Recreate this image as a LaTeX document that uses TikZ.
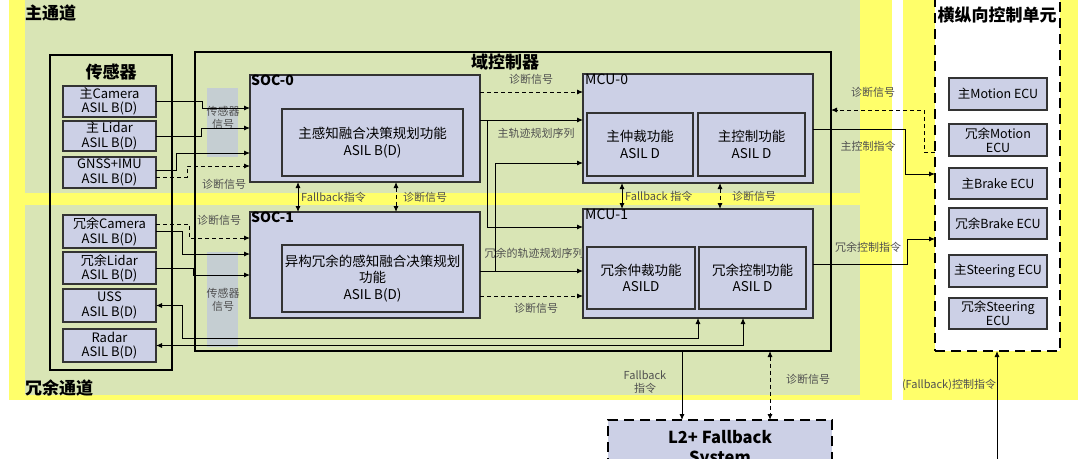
\documentclass[tikz,border=0pt]{standalone}
\usepackage{fontspec}
\setmainfont{Noto Sans CJK SC}
\usetikzlibrary{arrows.meta}
\definecolor{ylw}{HTML}{FFFF6A}
\definecolor{grn}{HTML}{D9E5B5}
\definecolor{bx}{HTML}{CCD0E6}
\definecolor{stripc}{HTML}{C2CBD8}
\definecolor{lgray}{HTML}{505050}
\begin{document}
\begin{tikzpicture}[x=1pt,y=-1pt,
  box/.style={draw=black!80, line width=1.1pt, fill=bx, inner sep=0pt, outer sep=0pt, anchor=north west, align=center, font=\fontsize{13}{14.5}\selectfont},
  grp/.style={draw=black, line width=2pt, inner sep=0pt, outer sep=0pt, anchor=north west},
  ttl/.style={font=\fontsize{17}{19}\selectfont\bfseries, inner sep=1pt},
  lbl/.style={text=lgray, font=\fontsize{11}{12.5}\selectfont, align=center, inner sep=0pt},
  conn/.style={line width=0.9pt, -{Latex[length=6pt,width=5pt]}},
  dconn/.style={conn, dash pattern=on 4pt off 3pt},
  both/.style={line width=0.9pt, {Latex[length=6pt,width=5pt]}-{Latex[length=6pt,width=5pt]}},
  dboth/.style={both, dash pattern=on 4pt off 3pt},
  bigdash/.style={draw=black, line width=2.6pt, dash pattern=on 10pt off 6pt, inner sep=0pt, outer sep=0pt, anchor=north west},
  ecu/.style={box, minimum width=98, font=\fontsize{12.5}{14}\selectfont},
  inner/.style={box, font=\fontsize{13.5}{16.5}\selectfont},
]
\useasboundingbox (0,0) rectangle (1078,458);
% backgrounds
\fill[ylw] (9,-5) rectangle (892,400);
\fill[grn] (25,-5) rectangle (860,193);
\fill[grn] (25,205) rectangle (860,395);
\fill[ylw] (903,-5) rectangle (1083,400);
% sensor signal strips
\fill[stripc, opacity=0.85] (207,88) rectangle (238,157);
\fill[stripc, opacity=0.85] (207,252) rectangle (238,347);
\node[lbl] (ss0) at (223,118) {传感器\\信号};
\node[lbl] (ss1) at (223,300) {传感器\\信号};
% channel titles
\node[ttl, anchor=west] (mainch) at (24,13) {主通道};
\node[ttl, anchor=west] (redch) at (24,388) {冗余通道};
% control unit
\node[bigdash, fill=white, minimum width=125, minimum height=356] (ctrl) at (935,-5) {};
\node[ttl, fill=white] (ctrlt) at (997,15) {横纵向控制单元};
\node[ecu, minimum height=32] (m0) at (949,78) {主Motion ECU};
\node[ecu, minimum height=32] (m1) at (949,124) {冗余Motion\\ECU};
\node[ecu, minimum height=31] (b0) at (949,168) {主Brake ECU};
\node[ecu, minimum height=31] (b1) at (949,208) {冗余Brake ECU};
\node[ecu, minimum height=32] (s0) at (949,255) {主Steering ECU};
\node[ecu, minimum height=31] (s1) at (949,298) {冗余Steering\\ECU};
% sensors
\node[grp, minimum width=122, minimum height=315] (sens) at (50,55) {};
\node[ttl] (senst) at (111,72) {传感器};
\node[box, minimum width=93, minimum height=31] (cam0) at (63,86) {主Camera\\ASIL B(D)};
\node[box, minimum width=93, minimum height=30] (lid0) at (63,121) {主 Lidar\\ASIL B(D)};
\node[box, minimum width=93, minimum height=31] (gnss) at (63,157) {GNSS+IMU\\ASIL B(D)};
\node[box, minimum width=93, minimum height=33] (cam1) at (63,215) {冗余Camera\\ASIL B(D)};
\node[box, minimum width=93, minimum height=32] (lid1) at (63,252) {冗余Lidar\\ASIL B(D)};
\node[box, minimum width=93, minimum height=33] (uss) at (63,289) {USS\\ASIL B(D)};
\node[box, minimum width=93, minimum height=33] (radar) at (63,329) {Radar\\ASIL B(D)};
% domain controller
\node[grp, minimum width=636, minimum height=299] (dc) at (195,52) {};
\node[ttl] (dct) at (505,62) {域控制器};
\node[box, minimum width=230, minimum height=107] (soc0) at (250,75) {};
\node[anchor=north west, inner sep=0pt, font=\fontsize{14}{15}\selectfont\bfseries] (soc0t) at (251,75) {SOC-0};
\node[inner, minimum width=181, minimum height=67] (soc0f) at (282,109) {主感知融合决策规划功能\\ASIL B(D)};
\node[box, minimum width=230, minimum height=106] (soc1) at (250,212) {};
\node[anchor=north west, inner sep=0pt, font=\fontsize{14}{15}\selectfont\bfseries] (soc1t) at (251,212) {SOC-1};
\node[inner, minimum width=181, minimum height=67] (soc1f) at (282,245) {异构冗余的感知融合决策规划\\功能\\ASIL B(D)};
\node[box, minimum width=230, minimum height=109] (mcu0) at (583,74) {};
\node[anchor=north west, inner sep=0pt, font=\fontsize{14}{15}\selectfont] (mcu0t) at (585,74) {MCU-0};
\node[inner, minimum width=106, minimum height=63] (arb0) at (587,113) {主仲裁功能\\ASIL D};
\node[inner, minimum width=107, minimum height=63] (ctl0) at (698,113) {主控制功能\\ASIL D};
\node[box, minimum width=230, minimum height=109] (mcu1) at (583,209) {};
\node[anchor=north west, inner sep=0pt, font=\fontsize{14}{15}\selectfont] (mcu1t) at (585,209) {MCU-1};
\node[inner, minimum width=108, minimum height=62] (arb1) at (587,247) {冗余仲裁功能\\ASILD};
\node[inner, minimum width=107, minimum height=62] (ctl1) at (699,247) {冗余控制功能\\ASIL D};
% L2+ fallback
\node[bigdash, fill=bx, minimum width=224, minimum height=58, align=center, font=\fontsize{16.5}{20}\selectfont\bfseries] (l2) at (608,420) {L2+ Fallback\\System};
% sensor connectors
\draw[conn] (cam0.east) -- (202,101.5) |- (soc0.west |- 0,108);
\draw[conn] (lid0.east) -- (201,136) |- (soc0.west |- 0,128);
\draw[conn] ([yshift=2.5pt]gnss.east) -- (176,170) |- (soc0.west |- 0,153);
\draw[dconn] ([yshift=-4.5pt]gnss.east) -- (187,177) |- (soc0.west |- 0,166);
\draw[dconn] ([yshift=7.5pt]cam1.east) -- (189,224) |- (soc1.west |- 0,238);
\draw[conn] (cam1.east) -- (182,231.5) |- (soc1.west |- 0,254);
\draw[conn] (lid1.east) -- (193,268) |- (soc1.west |- 0,275);
\draw[both] (uss.east) -- (182,305.5) |- (698,338) -- (mcu1.south -| 698,0);
\draw[both] (radar.east) -- (743,345.5) -- (mcu1.south -| 743,0);
\node[lbl] (d1) at (224,184) {诊断信号};
\node[lbl] (d2) at (219,220) {诊断信号};
% SOC - MCU
\draw[dconn] (soc0.east |- 0,92) -- (mcu0.west |- 0,92);
\draw[conn] (soc0.east |- 0,120) -- (mcu0.west |- 0,120);
\coordinate (j0) at (487,120);
\draw[conn] (j0) -- (487,227) -- (mcu1.west |- 0,227);
\draw[conn] (soc1.east |- 0,271) -- (mcu1.west |- 0,271);
\coordinate (j1) at (495,271);
\draw[conn] (j1) -- (495,163) -- (mcu0.west |- 0,163);
\draw[dconn] (soc1.east |- 0,296) -- (mcu1.west |- 0,296);
\node[lbl] (d3) at (531,79) {诊断信号};
\node[lbl] (tr0) at (536,133) {主轨迹规划序列};
\node[lbl] (tr1) at (534,253) {冗余的轨迹规划序列};
\node[lbl] (d4) at (536,308) {诊断信号};
% vertical links
\draw[both] (soc0.south -| 298,0) -- (soc1.north -| 298,0);
\draw[dboth] (soc0.south -| 396,0) -- (soc1.north -| 396,0);
\draw[both] (mcu0.south -| 622,0) -- (mcu1.north -| 622,0);
\draw[dboth] (mcu0.south -| 720,0) -- (mcu1.north -| 720,0);
\node[lbl, anchor=west] (fb0) at (301,197) {Fallback指令};
\node[lbl, anchor=west] (d5) at (403,197) {诊断信号};
\node[lbl, anchor=west] (fb1) at (625,196) {Fallback 指令};
\node[lbl, anchor=west] (d6) at (732,196) {诊断信号};
% MCU - control unit
\draw[conn] (mcu0.east |- 0,129) -- (905,129) |- (ctrl.west |- 0,174);
\draw[conn] (mcu1.east |- 0,264) -- (907,264) |- (ctrl.west |- 0,239);
\draw[dconn] (ctrl.west |- 0,152) -- (924,152) |- (dc.east |- 0,110);
\node[lbl] (d7) at (873,92) {诊断信号};
\node[lbl] (c0) at (868,146) {主控制指令};
\node[lbl] (c1) at (868,247) {冗余控制指令};
% bottom links
\draw[conn] (dc.south -| 682,0) -- (l2.north -| 682,0);
\draw[dboth] (dc.south -| 770,0) -- (l2.north -| 770,0);
\node[lbl] (fb2) at (645,382) {Fallback\\指令};
\node[lbl] (d8) at (808,379) {诊断信号};
\coordinate (fbin) at (997,470);
\draw[conn] (fbin) -- (ctrl.south -| 997,0);
\node[lbl] (fb3) at (949,385) {(Fallback)控制指令};
\end{tikzpicture}
\end{document}
